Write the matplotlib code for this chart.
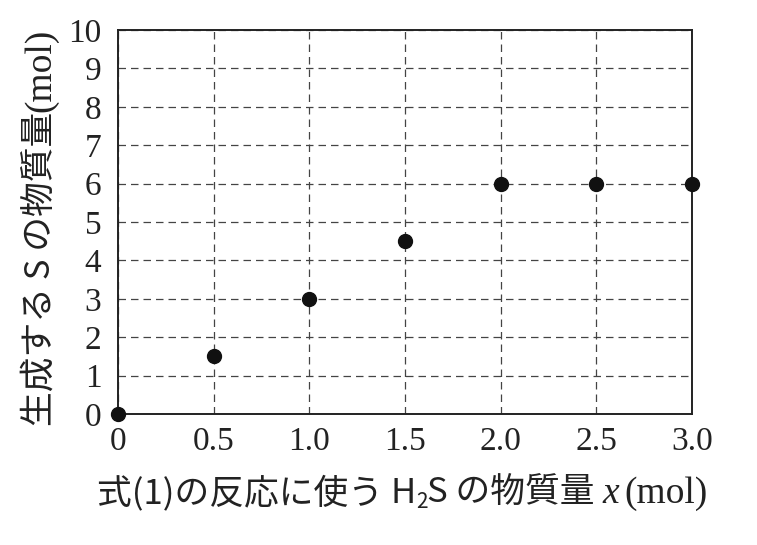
import matplotlib
matplotlib.use("Agg")
import matplotlib.pyplot as plt
from matplotlib.font_manager import FontProperties

x_vals = [0, 0.5, 1.0, 1.5, 2.0, 2.5, 3.0]
s_vals = [0, 1.5, 3.0, 4.5, 6.0, 6.0, 6.0]
x_ticks = [0, 0.5, 1.0, 1.5, 2.0, 2.5, 3.0]
x_tick_labels = ["0", "0.5", "1.0", "1.5", "2.0", "2.5", "3.0"]
y_ticks = list(range(0, 11))
y_tick_labels = [str(v) for v in y_ticks]

W, H = 757, 545
INK = "#222222"
fig = plt.figure(figsize=(W / 100, H / 100), dpi=100)
ax = fig.add_axes([118 / W, 1 - 414 / H, (692 - 118) / W, (414 - 30) / H])

ax.set_xlim(0, 3.0)
ax.set_ylim(0, 10)
ax.set_xticks(x_ticks)
ax.set_xticklabels(x_tick_labels)
ax.set_yticks(y_ticks)
ax.set_yticklabels(y_tick_labels)

serif = FontProperties(family="Liberation Serif", size=24)
for lab in ax.get_xticklabels() + ax.get_yticklabels():
    lab.set_fontproperties(serif)
    lab.set_color(INK)
ax.tick_params(length=0)
ax.tick_params(axis="y", pad=12)
ax.tick_params(axis="x", pad=9)

ax.grid(True, color="#444444", linestyle=(0, (6, 4)), linewidth=0.9)
ax.set_axisbelow(True)
for sp in ax.spines.values():
    sp.set_linewidth(1.4)
    sp.set_color(INK)

ax.plot(x_vals, s_vals, "o", color="#111111", markersize=10, clip_on=False, zorder=5)

renderer = fig.canvas.get_renderer()


def measure(s, fp):
    t = fig.text(0, 0, s, fontproperties=fp)
    w = t.get_window_extent(renderer=renderer).width
    t.remove()
    return w


def layout(pieces, center, base, vertical=False):
    widths = [measure(s, fp) for s, fp, _ in pieces]
    total = sum(widths)
    pos = center - total / 2
    for (s, fp, off), w in zip(pieces, widths):
        if vertical:
            fig.text((base - off) / W, pos / H, s, fontproperties=fp, rotation=90,
                     rotation_mode="anchor", ha="left", va="baseline", color=INK)
        else:
            fig.text(pos / W, (base + off) / H, s, fontproperties=fp,
                     ha="left", va="baseline", color=INK)
        pos += w


cjk = FontProperties(family="Noto Sans CJK JP", size=25)
cjk_sub = FontProperties(family="Noto Sans CJK JP", size=15)
ital = FontProperties(family="Liberation Serif", style="italic", size=27)
rmf = FontProperties(family="Liberation Serif", size=27)
rm_small = FontProperties(family="Liberation Serif", size=14)

# x label
layout([
    ("式(1)の反応に使う ", cjk, 0),
    ("H", cjk, 0),
    ("2", cjk_sub, -5),
    ("S の物質量 ", cjk, 0),
    ("x", ital, 0),
    (" ", rm_small, 0),
    ("(mol)", rmf, 0),
], center=402, base=H - 503)

# y label (rotated)
layout([
    ("生成する S の物質量", cjk, 0),
    ("(mol)", rmf, 0),
], center=H - 227, base=50, vertical=True)

fig.savefig("out.png", dpi=100)
